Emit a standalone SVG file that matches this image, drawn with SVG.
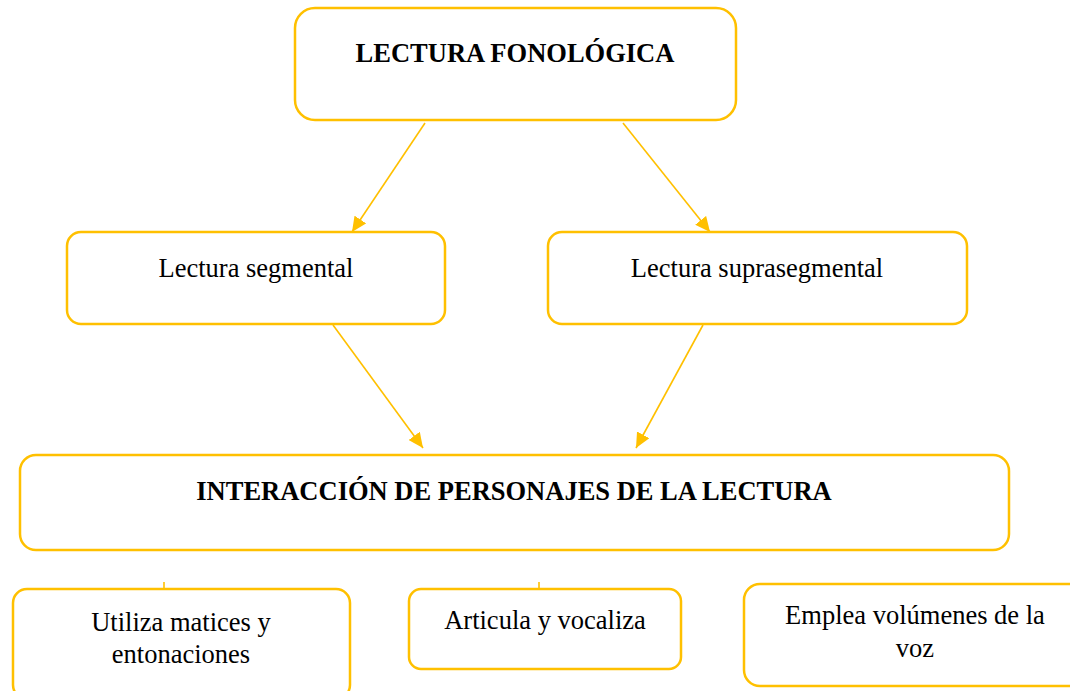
<svg xmlns="http://www.w3.org/2000/svg" width="1070" height="691" viewBox="0 0 1070 691">
<style>
.box{fill:#fff;stroke:#FFC000;stroke-width:2.5}
.t{font-family:"Liberation Serif","Times New Roman",serif;font-size:26.5px;fill:#000;text-anchor:middle}
.b{font-weight:bold}
.c{stroke:#FFC000;stroke-width:1.6;fill:none}
</style>
<defs>
<marker id="ah" markerUnits="userSpaceOnUse" markerWidth="16" markerHeight="14" refX="15" refY="7" orient="auto">
<path d="M0,0 L15,7 L0,14 Z" fill="#FFC000"/>
</marker>
</defs>
<rect width="1070" height="691" fill="#fff"/>
<g id="connectors">
<line class="c" x1="425" y1="123" x2="352" y2="232" marker-end="url(#ah)"/>
<line class="c" x1="623" y1="123" x2="710" y2="232" marker-end="url(#ah)"/>
<line class="c" x1="333" y1="325" x2="423" y2="448" marker-end="url(#ah)"/>
<line class="c" x1="703" y1="325" x2="636" y2="448" marker-end="url(#ah)"/>
<line class="c" x1="164" y1="582" x2="164" y2="589"/>
<line class="c" x1="539" y1="582" x2="539" y2="589"/>
</g>
<g id="n_fonologica">
<rect class="box" x="295" y="8" width="441" height="112" rx="20"/>
<text class="t b" x="515" y="62">LECTURA FONOLÓGICA</text>
</g>
<g id="n_segmental">
<rect class="box" x="67" y="232" width="378" height="92" rx="14"/>
<text class="t" x="256" y="277">Lectura segmental</text>
</g>
<g id="n_suprasegmental">
<rect class="box" x="548" y="232" width="419" height="92" rx="14"/>
<text class="t" x="757" y="277">Lectura suprasegmental</text>
</g>
<g id="n_interaccion">
<rect class="box" x="20" y="455" width="989" height="95" rx="16"/>
<text class="t b" x="514" y="500">INTERACCIÓN DE PERSONAJES DE LA LECTURA</text>
</g>
<g id="n_matices">
<rect class="box" x="13" y="589" width="337" height="110" rx="14"/>
<text class="t" x="181" y="631">Utiliza matices y</text>
<text class="t" x="181" y="663">entonaciones</text>
</g>
<g id="n_articula">
<rect class="box" x="409" y="589" width="272" height="80" rx="12"/>
<text class="t" x="545" y="629">Articula y vocaliza</text>
</g>
<g id="n_emplea">
<rect class="box" x="744" y="584" width="340" height="102" rx="16"/>
<text class="t" x="915" y="624">Emplea volúmenes de la</text>
<text class="t" x="915" y="657">voz</text>
</g>
</svg>
